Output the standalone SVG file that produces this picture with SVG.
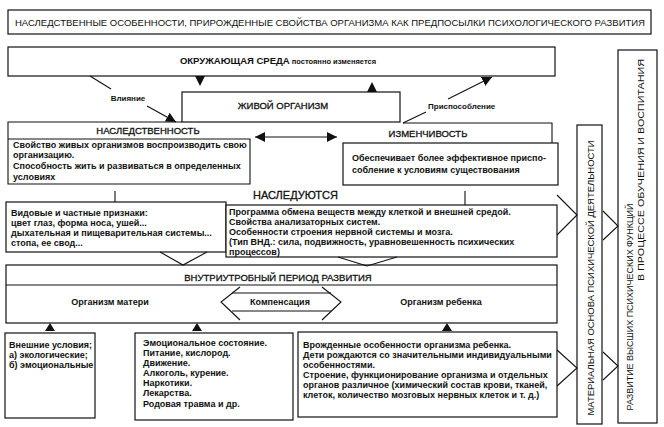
<svg xmlns="http://www.w3.org/2000/svg" width="664" height="427" viewBox="0 0 664 427">
<style>
.bx{fill:#fff;stroke:#111;stroke-width:1.2}
.ln{fill:none;stroke:#111;stroke-width:1.1}
.tri{fill:#111;stroke:none}
text{font-family:"Liberation Sans",Arial,sans-serif;fill:#111}
.t{font-size:9px;font-weight:bold}
.h{font-size:9.5px;font-weight:normal;stroke:#111;stroke-width:0.3}
.r{font-size:9.5px;font-weight:normal}
.s{font-size:8px;font-weight:bold}
</style>
<defs>
<marker id="ah" viewBox="0 0 10 10" refX="10" refY="5" markerWidth="10" markerHeight="10" markerUnits="userSpaceOnUse" orient="auto-start-reverse">
<path d="M0,0 L10,5 L0,10 Z" fill="#111"/>
</marker>
</defs>
<rect width="664" height="427" fill="#fff"/>

<g id="title">
<rect class="bx" x="8" y="10" width="643" height="24"/>
<text class="r" x="15" y="26" textLength="630" lengthAdjust="spacingAndGlyphs">НАСЛЕДСТВЕННЫЕ ОСОБЕННОСТИ, ПРИРОЖДЕННЫЕ СВОЙСТВА ОРГАНИЗМА КАК ПРЕДПОСЫЛКИ ПСИХОЛОГИЧЕСКОГО РАЗВИТИЯ</text>
</g>

<g id="env">
<rect class="bx" x="8" y="47" width="547" height="29"/>
<text x="278" y="64" text-anchor="middle"><tspan font-size="9.5" font-weight="bold">ОКРУЖАЮЩАЯ СРЕДА</tspan><tspan font-size="7.5" font-weight="bold"> постоянно изменяется</tspan></text>
</g>

<g id="organism">
<rect class="bx" x="182" y="92" width="218" height="30"/>
<text class="h" x="283" y="109" text-anchor="middle">ЖИВОЙ ОРГАНИЗМ</text>
</g>

<g id="heredity">
<path class="ln" d="M182,122 H8 V184 H250 V139 H8"/>
<text class="h" x="148" y="134" text-anchor="middle">НАСЛЕДСТВЕННОСТЬ</text>
<text class="t" x="13" y="147.5">Свойство живых организмов воспроизводить свою</text>
<text class="t" x="13" y="158">организацию.</text>
<text class="t" x="13" y="169">Способность жить и развиваться в определенных</text>
<text class="t" x="13" y="179.5">условиях</text>
</g>

<g id="variability">
<path class="ln" d="M403,123 H552 V143"/>
<rect class="bx" x="343" y="143" width="215" height="42"/>
<text class="h" x="428" y="137" text-anchor="middle">ИЗМЕНЧИВОСТЬ</text>
<text class="t" x="352" y="161">Обеспечивает более эффективное приспо-</text>
<text class="t" x="352" y="173">собление к условиям существования</text>
</g>

<g id="traits">
<rect class="bx" x="6" y="202" width="220" height="50"/>
<text class="t" x="11" y="215.5">Видовые и частные признаки:</text>
<text class="t" x="11" y="225.5">цвет глаз, форма носа, ушей...</text>
<text class="t" x="11" y="235.5">дыхательная и пищеварительная системы...</text>
<text class="t" x="11" y="245.5">стопа, ее свод...</text>
</g>

<g id="inherited">
<rect class="bx" x="226" y="205" width="331" height="52"/>
<text x="253" y="199" font-size="11" font-weight="normal" stroke="#111" stroke-width="0.3">НАСЛЕДУЮТСЯ</text>
<text class="t" x="229" y="215">Программа обмена веществ между клеткой и внешней средой.</text>
<text class="t" x="229" y="225">Свойства анализаторных систем.</text>
<text class="t" x="229" y="235">Особенности строения нервной системы и мозга.</text>
<text class="t" x="229" y="245">(Тип ВНД.: сила, подвижность, уравновешенность психических</text>
<text class="t" x="229" y="255">процессов)</text>
</g>

<g id="prenatal">
<rect class="bx" x="6" y="265" width="551" height="58"/>
<line class="ln" x1="6" y1="285" x2="557" y2="285"/>
<text class="h" x="278" y="281" text-anchor="middle">ВНУТРИУТРОБНЫЙ ПЕРИОД РАЗВИТИЯ</text>
<text class="t" x="110" y="305" text-anchor="middle">Организм матери</text>
<text class="t" x="280" y="305" text-anchor="middle">Компенсация</text>
<text class="t" x="441" y="305" text-anchor="middle">Организм ребенка</text>
</g>

<g id="external">
<rect class="bx" x="5" y="333" width="90" height="85"/>
<text class="t" x="9" y="348">Внешние условия;</text>
<text class="t" x="9" y="358">а) экологические;</text>
<text class="t" x="9" y="368">б) эмоциональные</text>
</g>

<g id="factors">
<rect class="bx" x="135" y="333" width="158" height="87"/>
<text class="t" x="143" y="346">Эмоциональное состояние.</text>
<text class="t" x="143" y="356">Питание, кислород.</text>
<text class="t" x="143" y="366">Движение.</text>
<text class="t" x="143" y="376">Алкоголь, курение.</text>
<text class="t" x="143" y="386">Наркотики.</text>
<text class="t" x="143" y="396">Лекарства.</text>
<text class="t" x="143" y="406.5">Родовая травма и др.</text>
</g>

<g id="innate">
<rect class="bx" x="298" y="332" width="259" height="85"/>
<text class="t" x="303" y="348">Врожденные особенности организма ребенка.</text>
<text class="t" x="303" y="358">Дети рождаются со значительными индивидуальными</text>
<text class="t" x="303" y="367.5">особенностями.</text>
<text class="t" x="303" y="377.5">Строение, функционирование организма и отдельных</text>
<text class="t" x="303" y="388">органов различное (химический состав крови, тканей,</text>
<text class="t" x="303" y="398">клеток, количество мозговых нервных клеток и т. д.)</text>
</g>

<g id="material">
<rect class="bx" x="577" y="125" width="25" height="299"/>
<text class="r" transform="translate(593.5,278) rotate(-90)" text-anchor="middle" textLength="275" lengthAdjust="spacingAndGlyphs">МАТЕРИАЛЬНАЯ ОСНОВА ПСИХИЧЕСКОЙ ДЕЯТЕЛЬНОСТИ</text>
</g>

<g id="development">
<rect class="bx" x="618" y="50" width="39" height="373"/>
<text class="r" transform="translate(632.5,307) rotate(-90)" text-anchor="middle" textLength="207" lengthAdjust="spacingAndGlyphs">РАЗВИТИЕ ВЫСШИХ ПСИХИЧЕСКИХ ФУНКЦИЙ</text>
<text class="r" transform="translate(643.5,170) rotate(-90)" text-anchor="middle" textLength="222" lengthAdjust="spacingAndGlyphs">В ПРОЦЕССЕ ОБУЧЕНИЯ И ВОСПИТАНИЯ</text>
</g>

<g id="connectors">
<polygon class="tri" points="195,76 205,76 200,86"/>
<polygon class="tri" points="367,92 377,92 372,82"/>
<line class="ln" x1="90" y1="76" x2="111" y2="89"/>
<line class="ln" x1="147" y1="106" x2="176" y2="122" marker-end="url(#ah)"/>
<text class="s" x="128" y="101" text-anchor="middle">Влияние</text>
<line class="ln" x1="403" y1="123" x2="426" y2="112"/>
<line class="ln" x1="448" y1="99" x2="492" y2="77" marker-end="url(#ah)"/>
<text class="s" x="428" y="109">Приспособление</text>
<line class="ln" x1="255" y1="137" x2="337" y2="137" marker-start="url(#ah)" marker-end="url(#ah)"/>
<line class="ln" x1="115" y1="191" x2="115" y2="202"/>
<line class="ln" x1="465" y1="191" x2="465" y2="205"/>
<polyline class="ln" points="160,252 183,265 207,252"/>
<polyline class="ln" points="338,257 367,266 397,257"/>
<polyline class="ln" points="240,287 221,302 240,320"/>
<polyline class="ln" points="322,287 341,302 322,320"/>
<line class="ln" x1="232" y1="293" x2="331" y2="293"/>
<line class="ln" x1="232" y1="311" x2="331" y2="311"/>
<polygon class="tri" points="45,331 55,331 50,323"/>
<polygon class="tri" points="192,331 202,331 197,323"/>
<polygon class="tri" points="442,331 452,331 447,323"/>
<polyline class="ln" points="557,195 577,215 557,235"/>
<polyline class="ln" points="557,350 577,368 557,386"/>
<polyline class="ln" points="603,211 618,226 603,240"/>
<polyline class="ln" points="603,352 618,366 603,380"/>
</g>
</svg>
